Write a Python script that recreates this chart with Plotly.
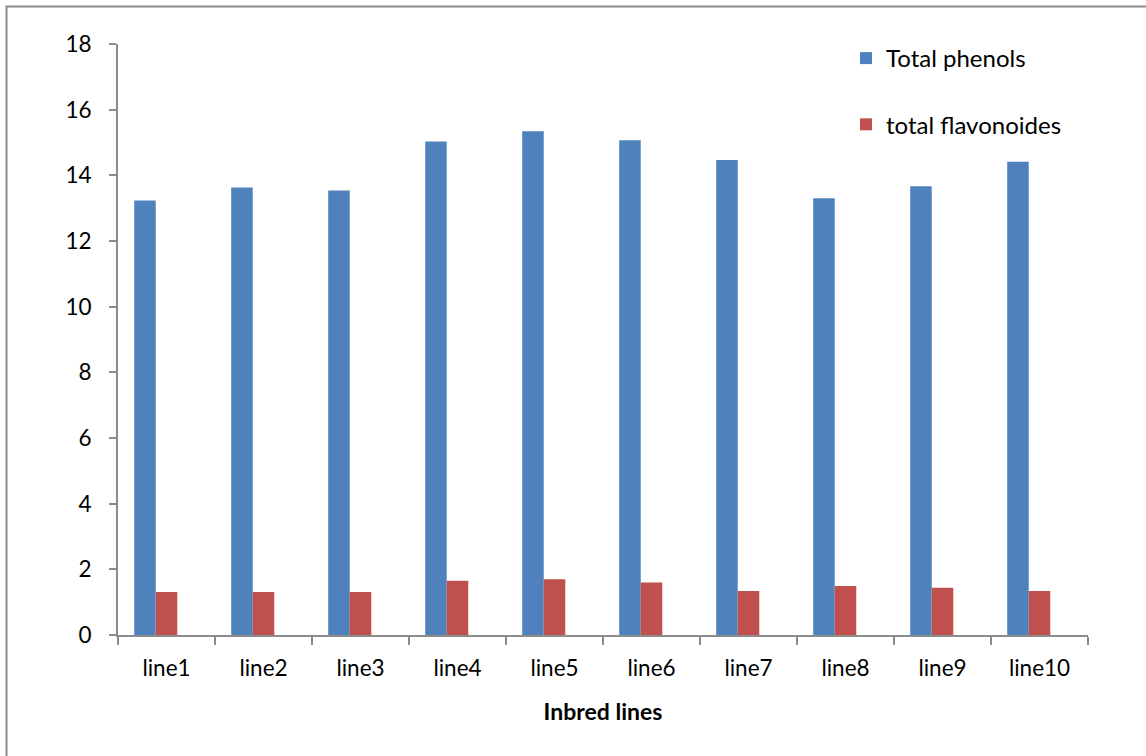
import plotly.graph_objects as go

categories = ["line1", "line2", "line3", "line4", "line5",
              "line6", "line7", "line8", "line9", "line10"]
total_phenols = [13.23, 13.63, 13.54, 15.03, 15.34, 15.07, 14.47, 13.30, 13.67, 14.41]
total_flavonoides = [1.31, 1.31, 1.31, 1.65, 1.70, 1.60, 1.34, 1.49, 1.44, 1.34]
y_ticks = [0, 2, 4, 6, 8, 10, 12, 14, 16, 18]

FONT = "Lato, 'Open Sans', sans-serif"
W, H = 1146, 756
L, R, T, B = 118, 58, 44, 121
pw, ph = W - L - R, H - T - B

# bar width in category units; the red bar sits on the category centre,
# the blue one just left of it
BW = 0.222

fig = go.Figure()
fig.add_trace(go.Bar(name="Total phenols", x=categories, y=total_phenols,
                     width=BW, offset=-1.5 * BW,
                     marker=dict(color="#4F81BD", line=dict(width=0)),
                     legendgroup="a"))
fig.add_trace(go.Bar(name="total flavonoides", x=categories, y=total_flavonoides,
                     width=BW, offset=-0.5 * BW,
                     marker=dict(color="#C0504D", line=dict(width=0)),
                     legendgroup="b"))

# outer frame of the chart area (open at the right and bottom edges)
fig.add_shape(type="rect", xref="paper", yref="paper",
              x0=(6.5 - L) / pw, x1=(W + 20 - L) / pw,
              y0=(H - B - (H + 20)) / ph, y1=(H - B - 6.5) / ph,
              line=dict(color="#8C8C8C", width=2), fillcolor="rgba(0,0,0,0)",
              layer="below")

fig.update_layout(
    width=W, height=H,
    margin=dict(l=L, r=R, t=T, b=B),
    paper_bgcolor="white", plot_bgcolor="white",
    barmode="overlay",
    font=dict(family=FONT, size=22, color="black"),
    legend=dict(x=(846 - L) / pw, y=(H - B - 36) / ph, xanchor="left", yanchor="top",
                traceorder="grouped", tracegroupgap=32,
                font=dict(family=FONT, size=24, color="black"),
                bgcolor="rgba(0,0,0,0)", itemwidth=30),
    xaxis=dict(
        showline=True, linecolor="#8C8C8C", linewidth=2,
        ticks="outside", tickson="boundaries", ticklen=8, tickcolor="#8C8C8C", tickwidth=2,
        ticklabelstandoff=12,
        tickfont=dict(family=FONT, size=22.5),
        title=dict(text="<b>Inbred lines</b>", font=dict(family=FONT, size=23), standoff=24),
        showgrid=False, zeroline=False,
    ),
    yaxis=dict(
        range=[0, 18], tickvals=y_ticks,
        showline=True, linecolor="#8C8C8C", linewidth=2,
        ticks="outside", ticklen=7, tickcolor="#8C8C8C", tickwidth=2,
        ticklabelstandoff=13,
        tickfont=dict(family=FONT, size=22.5),
        showgrid=False, zeroline=False,
    ),
)

fig.write_html("out.html")
